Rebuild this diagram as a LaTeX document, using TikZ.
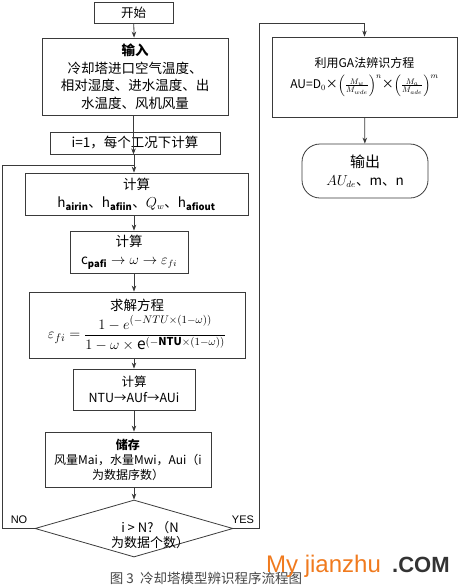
\documentclass[tikz,border=0pt]{standalone}
\usepackage{amsmath}
\usepackage{fontspec}
\setmainfont{Noto Sans CJK SC}
\newfontfamily\wmfont{Liberation Sans}
\usetikzlibrary{shapes.geometric,arrows.meta}
\definecolor{linec}{HTML}{3A3A3A}
\definecolor{wmorange}{HTML}{F07A1E}
\definecolor{wmgray}{HTML}{333333}
\definecolor{capgray}{HTML}{444444}
\tikzset{
  box/.style={draw=linec, line width=0.8pt, align=center, inner sep=1pt, font=\fontsize{12.5}{16}\selectfont},
  arr/.style={draw=linec, line width=0.8pt, -{Stealth[length=6pt,width=4.5pt]}},
  plain/.style={draw=linec, line width=0.8pt},
  lab/.style={font=\wmfont\fontsize{11}{13}\selectfont, inner sep=0pt}
}
\begin{document}
\begin{tikzpicture}[x=1pt,y=-1pt]
\useasboundingbox (0,0) rectangle (462,587);
% left column
\node[box, minimum width=79pt, minimum height=21pt] (start) at (133.5,12.5) {开始};
\node[box, minimum width=186pt, minimum height=77pt, font=\fontsize{13.5}{17.5}\selectfont] (input) at (135,76.5)
  {\textbf{输入}\\冷却塔进口空气温度、\\相对湿度、进水温度、出\\水温度、风机风量};
\node[box, minimum width=170pt, minimum height=22pt, font=\fontsize{13.5}{16}\selectfont] (init) at (135,143) {i=1，每个工况下计算};
\node[box, minimum width=223pt, minimum height=42pt, font=\fontsize{13.5}{18}\selectfont] (c1) at (136.5,194)
  {计算\\$\mathrm{h}_{\mathbf{airin}}$、$\mathrm{h}_{\mathbf{afiin}}$、$Q_w$、$\mathrm{h}_{\mathbf{afiout}}$};
\node[box, minimum width=118pt, minimum height=42pt, font=\fontsize{13.5}{18}\selectfont] (c2) at (129,252)
  {计算\\$\mathrm{c}_{\mathbf{pafi}}\rightarrow\omega\rightarrow\varepsilon_{fi}$};
\node[box, minimum width=216pt, minimum height=66pt, font=\fontsize{13.5}{15}\selectfont] (solve) at (137,325)
  {求解方程\\[3pt]{\fontsize{15.5}{18}\selectfont$\varepsilon_{fi}=\dfrac{1-e^{(-NTU\times(1-\omega))}}{1-\omega\times \mathrm{e}^{(-\mathbf{NTU}\times(1-\omega))}}$}};
\node[box, minimum width=122pt, minimum height=41pt] (c3) at (134,389.5)
  {计算\\NTU→AUf→AUi};
\node[box, minimum width=166pt, minimum height=55pt, font=\fontsize{12}{15}\selectfont] (store) at (128,459.5)
  {\textbf{储存}\\风量Mai，水量Mwi，Aui（i\\为数据序数）};
\node[draw=linec, line width=0.8pt, diamond, minimum width=198pt, minimum height=57pt, inner sep=0pt] (dec) at (134,528.5) {};
\node[align=center, inner sep=0pt, font=\fontsize{13}{14.5}\selectfont] (dect) at (150,535) {i > N? （N\\为数据个数）};
% right column
\node[box, minimum width=185pt, minimum height=80pt, font=\fontsize{12}{15}\selectfont] (ga) at (364.5,77)
  {利用GA法辨识方程\\[5pt]AU=D$_0$×$\left(\frac{M_w}{M_{wde}}\right)^{n}$×$\left(\frac{M_a}{M_{ade}}\right)^{m}$};
\node[box, rounded corners=18pt, minimum width=126pt, minimum height=54pt, font=\fontsize{13.5}{18}\selectfont] (out) at (365,171)
  {{\fontsize{15}{18}\selectfont 输出}\\$AU_{de}$、m、n};
% connectors
\coordinate (join) at (134,165);
\coordinate (nl) at (2,528.5);
\coordinate (nt) at (2,165);
\coordinate (yr) at (259,528.5);
\coordinate (yt) at (259,23);
\draw[arr] (start) -- (input);
\draw[arr] (input.south -| start) -- (init.south -| start) ;
\draw[arr] (init.south -| join) -- (c1.north -| join);
\draw[arr] (c1.south -| join) -- (c2.north -| join);
\draw[arr] (c2.south -| join) -- (solve.north -| join);
\draw[arr] (solve.south -| join) -- (c3.north -| join);
\draw[arr] (c3.south -| join) -- (store.north -| join);
\draw[arr] (store.south -| dec) -- (dec.north);
\draw[plain] (dec.west) -- (nl) -- (nt) -- (join);
\draw[arr] (dec.east) -- (yr) -- (yt) -| (ga.north);
\draw[arr] (ga) -- (out);
\node[lab] (no) at (19,520) {NO};
\node[lab] (yes) at (243,520) {YES};
% caption & watermark
\node[inner sep=0pt, text=capgray, font=\fontsize{13.5}{15}\selectfont] (cap) at (206,578) {图\ 3\ \ 冷却塔模型辨识程序流程图};
\node[inner sep=0pt, anchor=base west, text=wmorange, font=\wmfont\fontsize{24}{26}\selectfont] (wm1) at (266,572) {My jianzhu};
\node[inner sep=0pt, anchor=base west, text=wmgray, font=\wmfont\bfseries\fontsize{22}{26}\selectfont] (wm2) at (392,572) {.COM};
\end{tikzpicture}
\end{document}
